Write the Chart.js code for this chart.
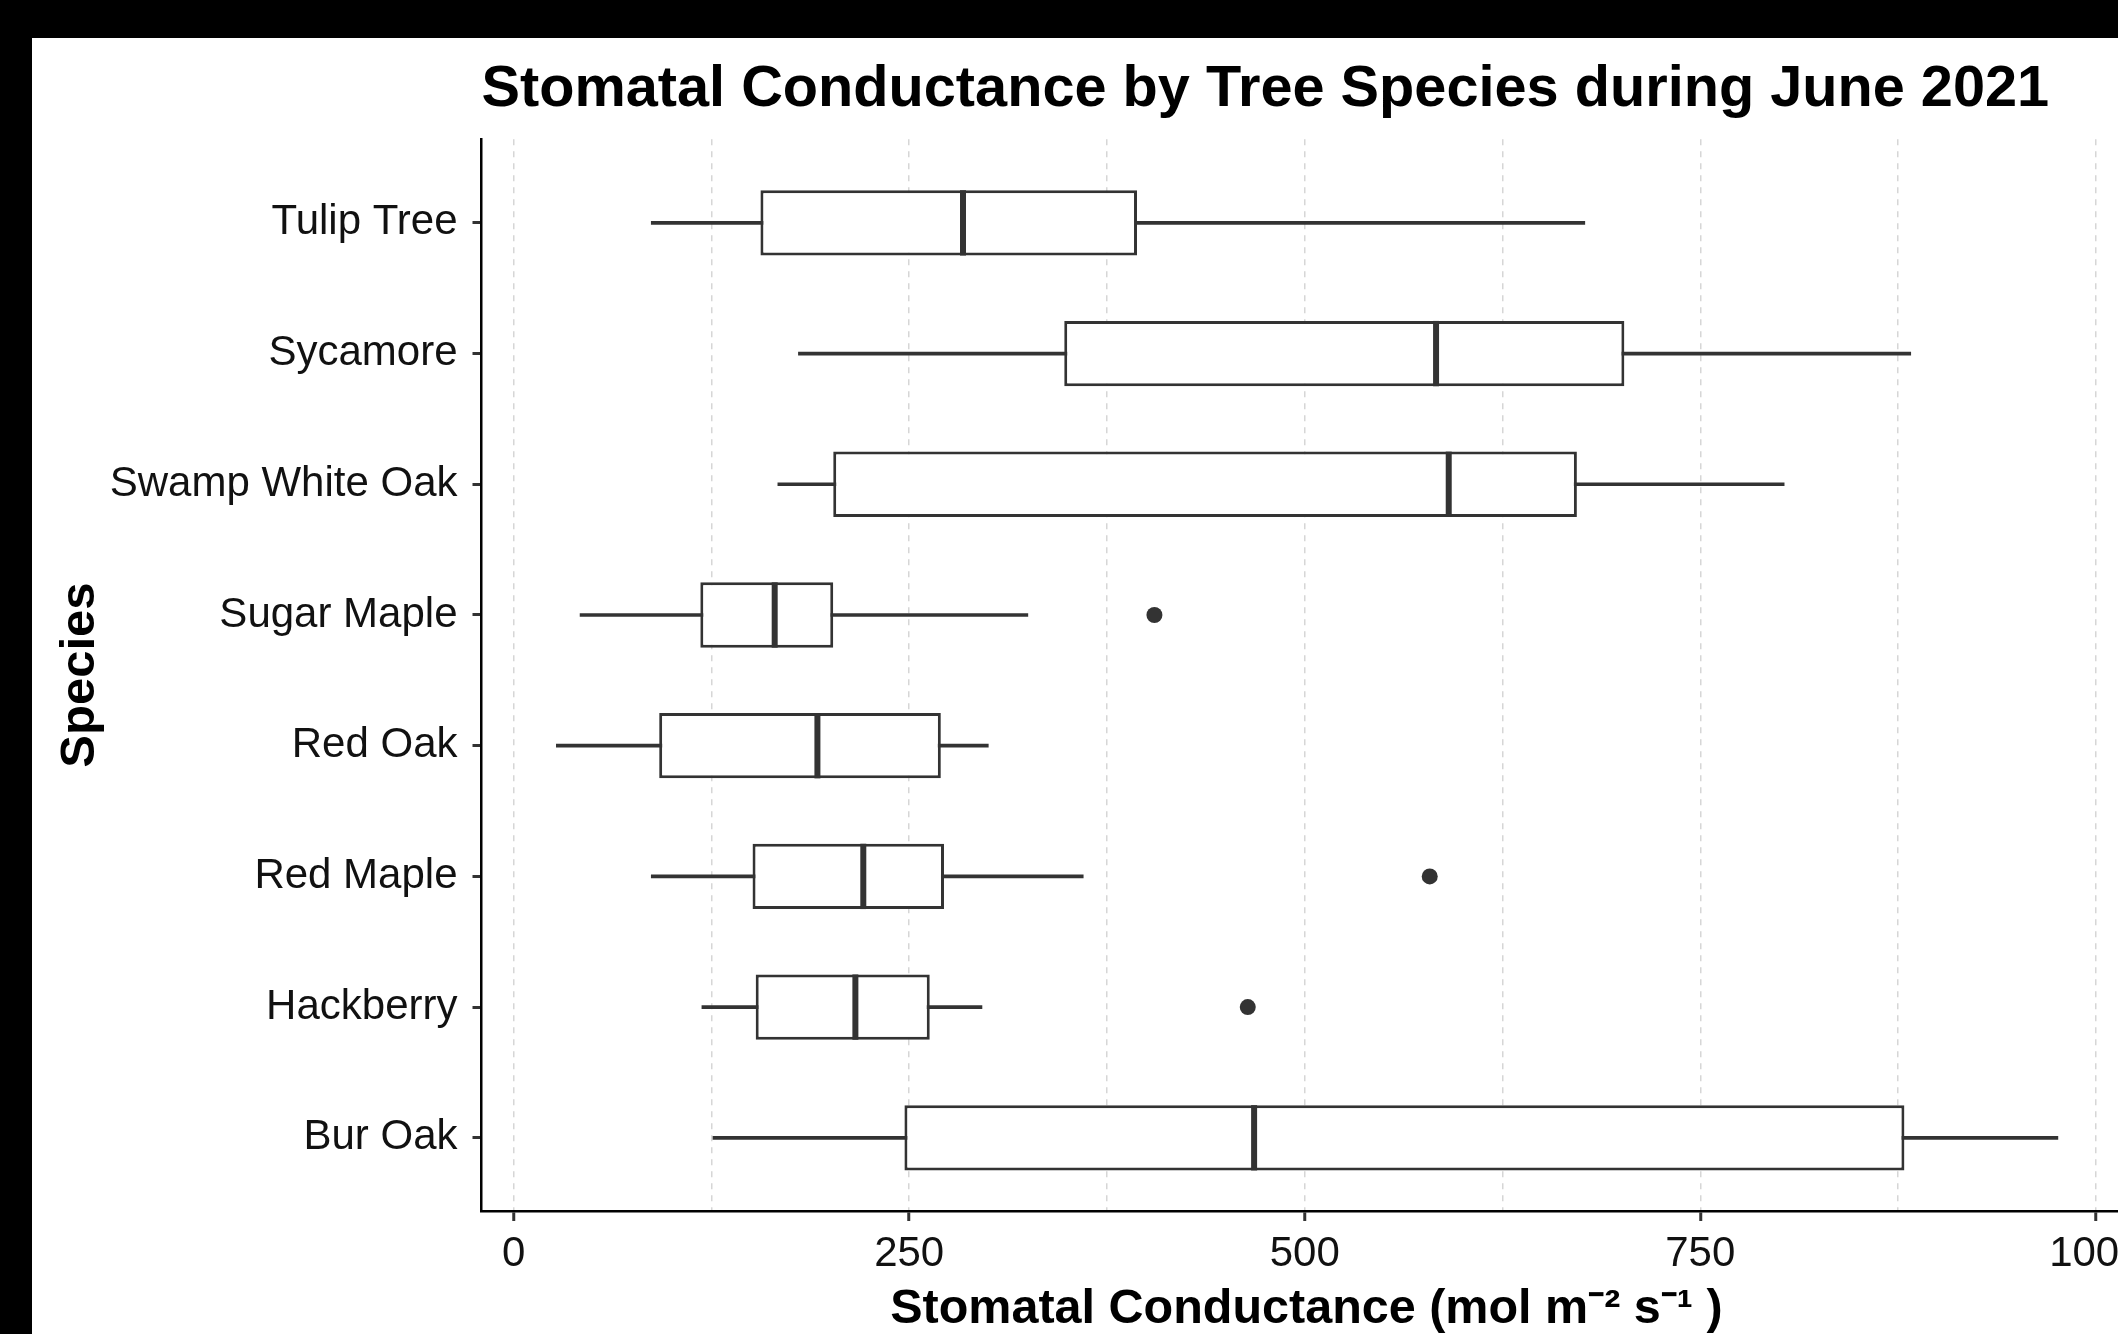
<!DOCTYPE html>
<html>
<head>
<meta charset="utf-8">
<script src="https://cdn.jsdelivr.net/npm/chart.js@4/dist/chart.umd.min.js"></script>
<style>
  html, body { margin: 0; padding: 0; background: #000; overflow: hidden; width: 2118px; height: 1334px; }
  #wrap { position: absolute; left: 32px; top: 38px; width: 2119px; height: 1296px; background: #fff; }
</style>
</head>
<body>
<div id="wrap"><canvas id="boxChart"></canvas></div>
<script>
// species, top to bottom as in the plot
var species = ['Tulip Tree', 'Sycamore', 'Swamp White Oak', 'Sugar Maple', 'Red Oak', 'Red Maple', 'Hackberry', 'Bur Oak'];
var whiskerLow  = [87, 180, 167, 42, 27, 87, 119, 126];
var q1          = [156, 348, 202, 118, 92, 151, 153, 247];
var medians     = [284, 583, 591, 165, 192, 221, 216, 468];
var q3          = [394, 702, 672, 202, 270, 272, 263, 879];
var whiskerHigh = [677, 883, 803, 325, 300, 360, 296, 976];
var outlierSpecies = ['Sugar Maple', 'Red Maple', 'Hackberry'];
var outlierValues  = [405, 579, 464];
var xTickValues = [0, 125, 250, 375, 500, 625, 750, 875, 1000];

var FONT = "'Liberation Sans', Arial, sans-serif";
var INK = '#333333';

var boxData = species.map(function(s, i) { return { x: [q1[i], q3[i]], y: i + 1 }; });
var whiskerData = species.map(function(s, i) { return { x: [whiskerLow[i], whiskerHigh[i]], y: i + 1 }; });
var outlierData = outlierSpecies.map(function(s, i) { return { x: outlierValues[i], y: species.indexOf(s) + 1 }; });

// median lines drawn on top of the boxes, using the chart scales
var medianPlugin = {
    id: 'medianLines',
    afterDatasetsDraw: function(chart) {
        var ctx = chart.ctx;
        var xs = chart.scales.x;
        var meta = chart.getDatasetMeta(0);
        ctx.save();
        ctx.strokeStyle = INK;
        ctx.lineWidth = 6;
        meta.data.forEach(function(bar, i) {
            var px = xs.getPixelForValue(medians[i]);
            var h = bar.height / 2;
            ctx.beginPath();
            ctx.moveTo(px, bar.y - h);
            ctx.lineTo(px, bar.y + h);
            ctx.stroke();
        });
        ctx.restore();
    }
};

var ctx = document.getElementById('boxChart').getContext('2d');
new Chart(ctx, {
    type: 'bar',
    data: {
        datasets: [{
            label: 'IQR',
            data: boxData,
            backgroundColor: '#ffffff',
            borderColor: INK,
            borderWidth: 3,
            borderSkipped: false,
            grouped: false,
            categoryPercentage: 1,
            barPercentage: 0.5
        }, {
            label: 'Whiskers',
            data: whiskerData,
            backgroundColor: INK,
            borderWidth: 0,
            grouped: false,
            barThickness: 3
        }, {
            type: 'scatter',
            label: 'Outliers',
            data: outlierData,
            backgroundColor: INK,
            borderWidth: 0,
            pointRadius: 8
        }]
    },
    options: {
        indexAxis: 'y',
        responsive: true,
        maintainAspectRatio: false,
        animation: false,
        layout: { padding: 0 },
        plugins: {
            legend: { display: false },
            tooltip: { enabled: false },
            title: {
                display: true,
                text: 'Stomatal Conductance by Tree Species during June 2021',
                align: 'start',
                fullSize: false,
                color: '#000',
                font: { family: FONT, size: 57.7, weight: 'bold' },
                padding: { top: 17, bottom: 15 }
            }
        },
        scales: {
            x: {
                type: 'linear',
                position: 'bottom',
                min: -20.3,
                max: 1022.4,
                afterBuildTicks: function(scale) {
                    scale.ticks = xTickValues.map(function(v) { return { value: v }; });
                },
                afterFit: function(scale) { scale.height = 123; },
                ticks: {
                    color: '#111',
                    font: { family: FONT, size: 42 },
                    padding: 8,
                    maxRotation: 0,
                    callback: function(v) { return v % 250 === 0 ? v : ''; }
                },
                grid: {
                    color: '#d6d6d6',
                    lineWidth: 1.5,
                    tickLength: 10,
                    tickWidth: 3,
                    tickColor: function(c) { return c.tick && c.tick.value % 250 === 0 ? INK : 'rgba(0,0,0,0)'; }
                },
                border: { display: true, color: '#000', width: 2.5, dash: [6, 6] },
                title: {
                    display: true,
                    text: 'Stomatal Conductance (mol m\u207B\u00B2 s\u207B\u00B9 )',
                    color: '#000',
                    font: { family: FONT, size: 48.5, weight: 'bold' },
                    padding: { top: 0, bottom: -5 }
                }
            },
            y: {
                type: 'linear',
                position: 'left',
                reverse: true,
                offset: false,
                min: 0.36,
                max: 8.56,
                afterBuildTicks: function(scale) {
                    scale.ticks = species.map(function(s, i) { return { value: i + 1 }; });
                },
                afterFit: function(scale) { scale.width = 449.5; },
                ticks: {
                    color: '#111',
                    font: { family: FONT, size: 42 },
                    padding: 15,
                    callback: function(v) { return species[v - 1]; }
                },
                grid: {
                    offset: false,
                    drawOnChartArea: false,
                    tickLength: 9,
                    tickWidth: 3,
                    tickColor: INK
                },
                border: { display: true, color: '#000', width: 2.5 },
                title: {
                    display: true,
                    text: 'Species',
                    color: '#000',
                    font: { family: FONT, size: 49, weight: 'bold' },
                    padding: { top: 19, bottom: 0 }
                }
            }
        }
    },
    plugins: [medianPlugin]
});
</script>
</body>
</html>
